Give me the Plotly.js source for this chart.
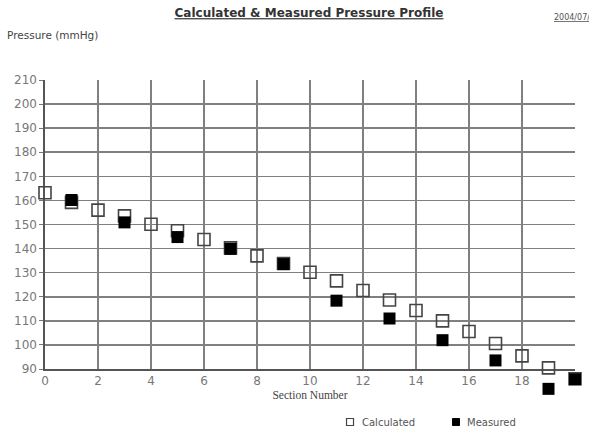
<!DOCTYPE html>
<html><head><meta charset="utf-8">
<script src="https://cdn.plot.ly/plotly-3.0.1.min.js"></script>
<style>html,body{margin:0;padding:0;background:#fff}#chart{width:589px;height:432px}</style>
</head><body><div id="chart"></div>
<script>
const calcSections = [0,1,2,3,4,5,6,7,8,9,10,11,12,13,14,15,16,17,18,19,20];
const calcPressure = [163.2,159.2,156,153.6,150.1,147.4,143.8,140.3,137,133.8,130.2,126.6,122.6,118.7,114.3,110,105.6,100.6,95.5,90.5,86];
const measSections = [1,3,5,7,9,11,13,15,17,19,20];
const measPressure = [160.2,150.9,144.8,139.9,133.6,118.4,111,102,93.6,81.8,85.8];
const xTicks = [0,2,4,6,8,10,12,14,16,18];
const yTicks = [90,100,110,120,130,140,150,160,170,180,190,200,210];
const seriesNames = ['Calculated','Measured'];

const traces = [
  {x: [], y: [], xaxis:'x', yaxis:'y', type:'scatter', mode:'markers', showlegend:false, hoverinfo:'skip'},
  {x: calcSections, y: calcPressure, xaxis:'x2', yaxis:'y2', type:'scatter', mode:'markers', name:seriesNames[0], showlegend:false, cliponaxis:false,
   marker:{symbol:'square-open', size:12, color:'#444', line:{width:1.6}}},
  {x: measSections, y: measPressure, xaxis:'x2', yaxis:'y2', type:'scatter', mode:'markers', name:seriesNames[1], showlegend:false, cliponaxis:false,
   marker:{symbol:'square', size:12, color:'#000'}}
];

const tickFont = {size:12, color:'#777', family:'DejaVu Sans, sans-serif'};
const layout = {
  width:589, height:432,
  margin:{l:45, r:14, t:80, b:34},
  paper_bgcolor:'#fff', plot_bgcolor:'rgba(0,0,0,0)',
  showlegend:false,
  font:{family:'DejaVu Sans, sans-serif', color:'#555'},
  title:{text:'<b><span style="text-decoration:underline">Calculated &amp; Measured Pressure Profile</span></b>',
         xref:'container', yref:'container', x:0.5246, xanchor:'center', y:0.97, yanchor:'middle',
         font:{size:12, color:'#333', family:'DejaVu Sans, sans-serif'}},
  xaxis:{domain:[0,1], range:[0,20], tickmode:'array', tickvals:xTicks, ticktext:xTicks.map(String), anchor:'y',
         showgrid:true, gridcolor:'#808080', gridwidth:1.6, zeroline:false,
         showline:true, linecolor:'#555', linewidth:1.6, ticks:'', tickfont:tickFont,
         title:{text:'Section Number', font:{size:11.5, color:'#444', family:'Liberation Serif, Times New Roman, serif'}, standoff:4}},
  yaxis:{domain:[0.0912,1], range:[90,210], anchor:'x', tickmode:'array', tickvals:yTicks, ticktext:yTicks.map(String),
         showgrid:true, gridcolor:'#808080', gridwidth:1.6, zeroline:false,
         showline:true, linecolor:'#555', linewidth:1.6, ticks:'outside', ticklen:4, tickcolor:'#777', tickfont:tickFont},
  xaxis2:{domain:[0,1], range:[0,20], anchor:'y2', visible:false, showgrid:false, zeroline:false},
  yaxis2:{domain:[0,1], range:[78,210], anchor:'x2', visible:false, showgrid:false, zeroline:false},
  shapes:[
    {type:'rect', xref:'paper', yref:'paper', xsizemode:'pixel', ysizemode:'pixel', xanchor:0.5755, yanchor:-0.0755,
     x0:-3.5, x1:3.5, y0:-3.5, y1:3.5, line:{color:'#444', width:1.2}, fillcolor:'#fff'},
    {type:'rect', xref:'paper', yref:'paper', xsizemode:'pixel', ysizemode:'pixel', xanchor:0.7755, yanchor:-0.0755,
     x0:-3.5, x1:3.5, y0:-3.5, y1:3.5, line:{color:'#000', width:1}, fillcolor:'#000'}
  ],
  annotations:[
    {text:'Pressure (mmHg)', xref:'paper', yref:'paper', x:-0.0755, y:1.1415, xanchor:'left', yanchor:'middle', showarrow:false,
     font:{size:10.5, color:'#444', family:'DejaVu Sans, sans-serif'}},
    {text:'<span style="text-decoration:underline">2004/07/</span>', xref:'paper', yref:'paper', x:0.9566, y:1.198, xanchor:'left', yanchor:'middle', showarrow:false,
     font:{size:8, color:'#555', family:'DejaVu Sans, sans-serif'}},
    {text:seriesNames[0], xref:'paper', yref:'paper', x:0.5943, y:-0.0755, xanchor:'left', yanchor:'middle', showarrow:false,
     font:{size:10, color:'#555', family:'DejaVu Sans, sans-serif'}},
    {text:seriesNames[1], xref:'paper', yref:'paper', x:0.7925, y:-0.0755, xanchor:'left', yanchor:'middle', showarrow:false,
     font:{size:10, color:'#555', family:'DejaVu Sans, sans-serif'}}
  ]
};
Plotly.newPlot('chart', traces, layout, {displayModeBar:false, staticPlot:true});
</script></body></html>
